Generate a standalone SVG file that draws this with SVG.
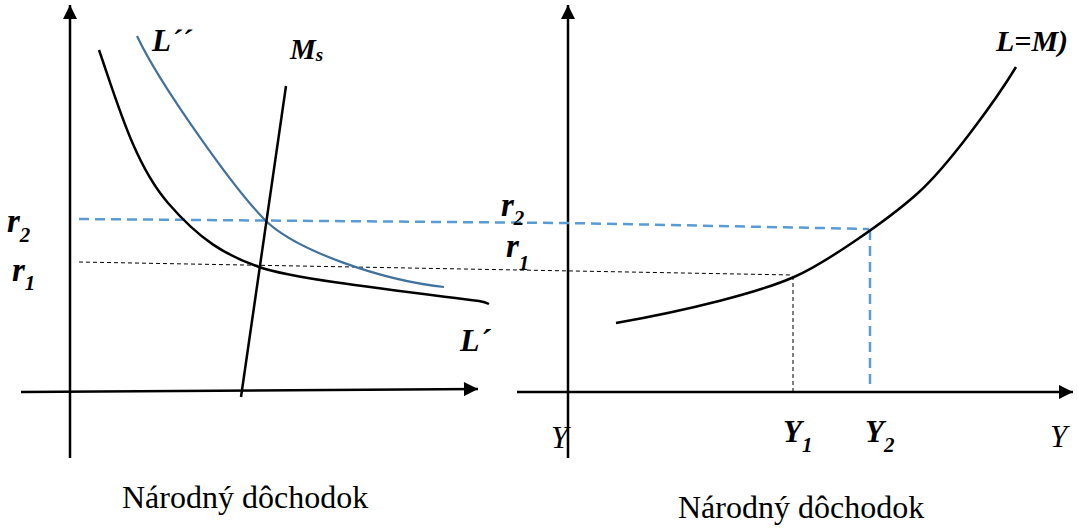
<svg xmlns="http://www.w3.org/2000/svg" width="1078" height="530" viewBox="0 0 1078 530">
<defs>
<style>
.ax{stroke:#000;stroke-width:2.5;fill:none}
.crv{stroke:#000;stroke-width:2.5;fill:none}
.blue{stroke:#41719C;stroke-width:2.2;fill:none}
.bdash{stroke:#5B9BD5;stroke-width:2.5;fill:none;stroke-dasharray:10 6}
.kdash{stroke:#000;stroke-width:1;fill:none;stroke-dasharray:4 3}
.lbl{font-family:"Liberation Serif",serif;font-weight:bold;font-style:italic;fill:#000}
.it{font-family:"Liberation Serif",serif;font-style:italic;fill:#000}
.rg{font-family:"Liberation Serif",serif;fill:#000}
</style>
<marker id="ah" viewBox="0 0 10 10" refX="10" refY="5" markerWidth="6.4" markerHeight="5.6" markerUnits="strokeWidth" orient="auto">
<path d="M0,0 L10,5 L0,10 z" fill="#000"/>
</marker>
</defs>
<rect width="1078" height="530" fill="#fff"/>
<g id="axes">
<line class="ax" x1="70" y1="458" x2="70" y2="5" marker-end="url(#ah)"/>
<line class="ax" x1="21" y1="392" x2="478" y2="389" marker-end="url(#ah)"/>
<line class="ax" x1="568" y1="458" x2="568" y2="5" marker-end="url(#ah)"/>
<line class="ax" x1="517" y1="392" x2="1073" y2="392" marker-end="url(#ah)"/>
</g>
<g id="connectors">
<polyline class="bdash" points="79,219 568,223 869,229"/>
<line class="bdash" x1="870" y1="230" x2="870" y2="388"/>
<line class="kdash" x1="79" y1="262" x2="793" y2="275"/>
<line class="kdash" x1="793" y1="276" x2="793" y2="392"/>
</g>
<g id="L1">
<path class="crv" d="M99,50 C118,105 135,165 168,203 C200,240 225,255 259,267 C293,279 400,291 479,301 Q485,302 489,304"/>
</g>
<g id="L2">
<path class="blue" d="M137,36 C160,85 235,190 265,220 C295,250 380,280 444,287"/>
</g>
<g id="Ms">
<line class="crv" x1="286" y1="86" x2="241" y2="397"/>
</g>
<g id="LM">
<path class="crv" d="M616,323 C690,310 760,292 794,277 C824,264 888,220 918,193 C948,166 996,100 1016,67"/>
</g>
<g id="labels">
<text class="lbl" x="152" y="51" font-size="31">L´´</text>
<text class="lbl" x="290" y="59" font-size="29">M<tspan font-size="19" dy="2">s</tspan></text>
<text class="lbl" x="460" y="351" font-size="32">L´</text>
<text class="lbl" x="996" y="51" font-size="30">L=M)</text>
<text class="lbl" x="7" y="232" font-size="33">r<tspan font-size="21" dy="10">2</tspan></text>
<text class="lbl" x="12" y="281" font-size="33">r<tspan font-size="21" dy="9">1</tspan></text>
<text class="lbl" x="501" y="216" font-size="33">r<tspan font-size="21" dy="9">2</tspan></text>
<text class="lbl" x="506" y="257" font-size="33">r<tspan font-size="21" dy="13">1</tspan></text>
<text class="lbl" x="783" y="442" font-size="31">Y<tspan font-size="21" dy="10">1</tspan></text>
<text class="lbl" x="865" y="442" font-size="31">Y<tspan font-size="21" dy="10">2</tspan></text>
<text class="it" x="551" y="448" font-size="31">Y</text>
<text class="it" x="1050" y="447" font-size="31">Y</text>
<text class="rg" x="122" y="508" font-size="32">Národný dôchodok</text>
<text class="rg" x="678" y="518" font-size="32">Národný dôchodok</text>
</g>
</svg>
